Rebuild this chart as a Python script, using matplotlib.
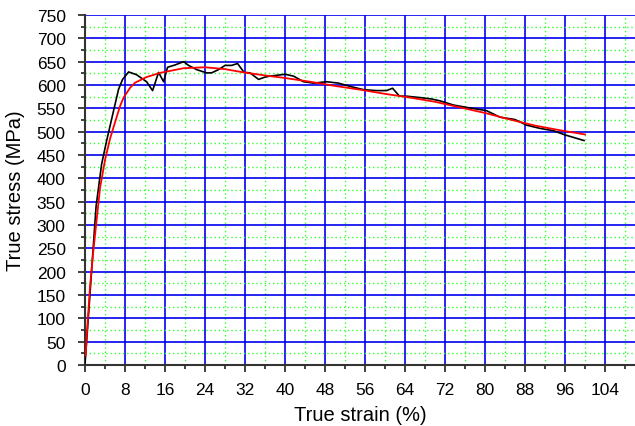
import matplotlib
matplotlib.use("Agg")
import matplotlib.pyplot as plt
from matplotlib.ticker import MultipleLocator

plt.rcParams['font.family'] = ['Liberation Sans', 'DejaVu Sans']

# measured curve (black)
exp_strain = [0, 0.9, 2.2, 3.3, 4.3, 5.7, 6.7, 7.5, 8.7, 10.3, 12.3, 13.5, 14.7, 15.7,
              16.5, 18, 19.7, 20.7, 22.3, 24.3, 25.3, 26.7, 28, 29.3, 30.5, 31.8, 33,
              34.7, 36, 37, 40, 41.7, 43.7, 45.7, 48.3, 50.7, 53, 55.7, 58.3, 60.3,
              61.5, 62.9, 64.3, 67, 69.3, 71, 73.7, 76.3, 80.3, 83, 86, 88.3, 91,
              93.7, 96, 99.8]
exp_stress = [5, 140, 340, 430, 480, 545, 591, 612, 628, 622, 607, 588, 627, 607,
              638, 643, 650, 642, 633, 626, 626, 633, 642, 642, 646, 627, 626,
              612, 617, 619, 623, 619, 607, 604, 607, 604, 597, 590, 588, 588,
              593, 576, 576, 573, 570, 566, 557, 552, 545, 531, 526, 514, 507,
              502, 493, 481]

# fitted curve (red)
fit_strain = [0.1, 0.5, 1, 1.7, 2.5, 3, 4, 5, 5.7, 7, 7.7, 9, 10, 12.3, 15, 19.7, 24,
              28, 31.7, 37, 40, 45, 50, 55, 60, 65, 70, 75, 80, 85, 90, 95, 100]
fit_stress = [20, 90, 170, 250, 330, 380, 440, 485, 510, 555, 573, 594, 605, 617, 626,
              636, 638, 634, 627, 619, 615, 607, 598, 590, 581, 573, 564, 552, 540,
              526, 513, 503, 494]

fig = plt.figure(figsize=(6.35, 4.27), dpi=100)
ax = fig.add_axes([0.134, 0.143, 0.866, 0.8195])

ax.plot(exp_strain, exp_stress, color='black', lw=1.2, zorder=3)
ax.plot(fit_strain, fit_stress, color='red', lw=1.3, zorder=4)

ax.set_xlim(0, 110)
ax.set_ylim(0, 750)
ax.xaxis.set_major_locator(MultipleLocator(8))
ax.xaxis.set_minor_locator(MultipleLocator(4))
ax.yaxis.set_major_locator(MultipleLocator(50))
ax.yaxis.set_minor_locator(MultipleLocator(25))

ax.grid(which='major', color='#0000ee', lw=1.2, ls='-')
ax.grid(which='minor', color='#33ff33', lw=1.0, ls=(0, (1, 2)))
ax.set_axisbelow(True)

for s in ['top', 'right']:
    ax.spines[s].set_visible(False)
for s in ['left', 'bottom']:
    ax.spines[s].set_color('#333333')
    ax.spines[s].set_linewidth(1.5)

ax.tick_params(which='major', length=5, width=1.3, color='#333333', labelsize=12.5)
ax.tick_params(axis='y', which='major', pad=9)
ax.tick_params(axis='x', which='major', pad=7)
ax.tick_params(which='minor', length=3, width=1.3, color='#333333')

ax.set_xlabel('True strain (%)', fontsize=14.5, labelpad=6)
ax.set_ylabel('True stress (MPa)', fontsize=14.5, labelpad=8)

fig.savefig('out.png', dpi=100)
